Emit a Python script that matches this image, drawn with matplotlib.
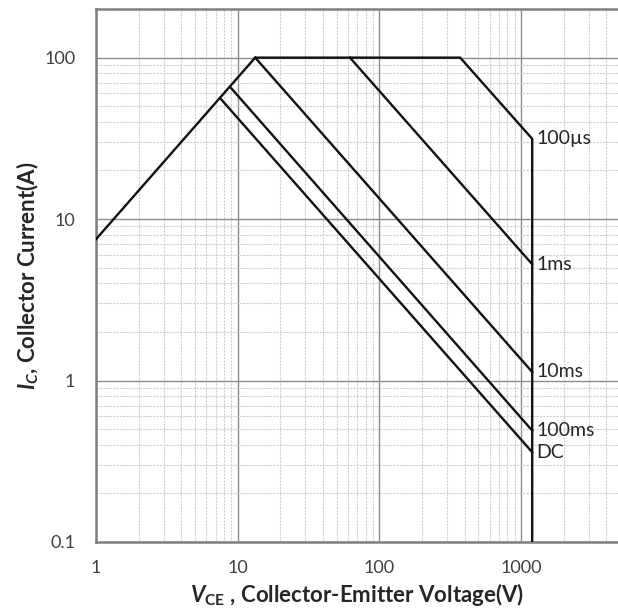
import matplotlib
matplotlib.use("Agg")
import matplotlib.pyplot as plt
from matplotlib.ticker import LogLocator, FixedLocator, FixedFormatter, NullFormatter

plt.rcParams['font.family'] = ['Lato', 'DejaVu Sans']
plt.rcParams['mathtext.fontset'] = 'custom'
plt.rcParams['mathtext.rm'] = 'Lato:bold'
plt.rcParams['mathtext.it'] = 'Lato:bold:italic'
plt.rcParams['mathtext.bf'] = 'Lato:bold'

# Safe operating area data (V, A)
envelope_v = [1, 13.3, 372, 1200, 1200]
envelope_i = [7.5, 100, 100, 31.4, 0.1]
ms1_v = [62, 1200]
ms1_i = [100, 5.25]
ms10_v = [13.3, 1200]
ms10_i = [100, 1.13]
ms100_v = [9.0, 1200]
ms100_i = [64.7, 0.49]
dc_v = [7.67, 1200]
dc_i = [55, 0.36]
curve_labels = ["100µs", "1ms", "10ms", "100ms", "DC"]
label_i = [31.4, 5.25, 1.13, 0.49, 0.36]
label_v = 1200

xticks = [1, 10, 100, 1000]
xticklabels = ["1", "10", "100", "1000"]
yticks = [0.1, 1, 10, 100]
yticklabels = ["0.1", "1", "10", "100"]

fig = plt.figure(figsize=(6.18, 6.12), dpi=100)
ax = fig.add_axes([96/618, 70/612, 522/618, 533/612])
ax.set_xscale('log')
ax.set_yscale('log')
ax.set_xlim(1, 4840)
ax.set_ylim(0.1, 200)

lw = 1.7
for v, i in [(envelope_v, envelope_i), (ms1_v, ms1_i), (ms10_v, ms10_i),
             (ms100_v, ms100_i), (dc_v, dc_i)]:
    ax.plot(v, i, color='#111111', lw=lw, solid_joinstyle='miter', zorder=3)

for lab, yi in zip(curve_labels, label_i):
    ax.text(label_v * 1.07, yi, lab, fontsize=14, color='#262626',
            ha='left', va='center', zorder=4)

ax.xaxis.set_major_locator(FixedLocator(xticks))
ax.xaxis.set_major_formatter(FixedFormatter(xticklabels))
ax.yaxis.set_major_locator(FixedLocator(yticks))
ax.yaxis.set_major_formatter(FixedFormatter(yticklabels))
ax.xaxis.set_minor_locator(LogLocator(base=10, subs=range(2, 10), numticks=20))
ax.yaxis.set_minor_locator(LogLocator(base=10, subs=range(2, 10), numticks=20))
ax.xaxis.set_minor_formatter(NullFormatter())
ax.yaxis.set_minor_formatter(NullFormatter())

ax.grid(which='minor', color='#cfcfcf', lw=0.8, ls=(0, (2, 1)))
ax.grid(which='major', color='#8c8c8c', lw=1.0)
ax.set_axisbelow(True)

ax.tick_params(which='both', length=0)
ax.tick_params(axis='x', pad=13, labelsize=13, labelcolor='#404040')
ax.tick_params(axis='y', pad=15, labelsize=13, labelcolor='#404040')

for s in ['top', 'left', 'bottom']:
    ax.spines[s].set_color('#808080')
    ax.spines[s].set_linewidth(1.8)
ax.spines['right'].set_visible(False)

ax.set_xlabel(r'$V_{\mathrm{CE}}$ , Collector-Emitter Voltage(V)', fontsize=16,
              fontweight='bold', color='#262626')
ax.set_ylabel(r'$I_C$, Collector Current(A)', fontsize=16,
              fontweight='bold', color='#262626')
ax.xaxis.label.set_va('center')
ax.yaxis.label.set_va('center')
ax.xaxis.set_label_coords(0.5, (542 - 595) / 533)
ax.yaxis.set_label_coords((28 - 96) / 522, 0.5)

fig.savefig('out.png', dpi=100)
